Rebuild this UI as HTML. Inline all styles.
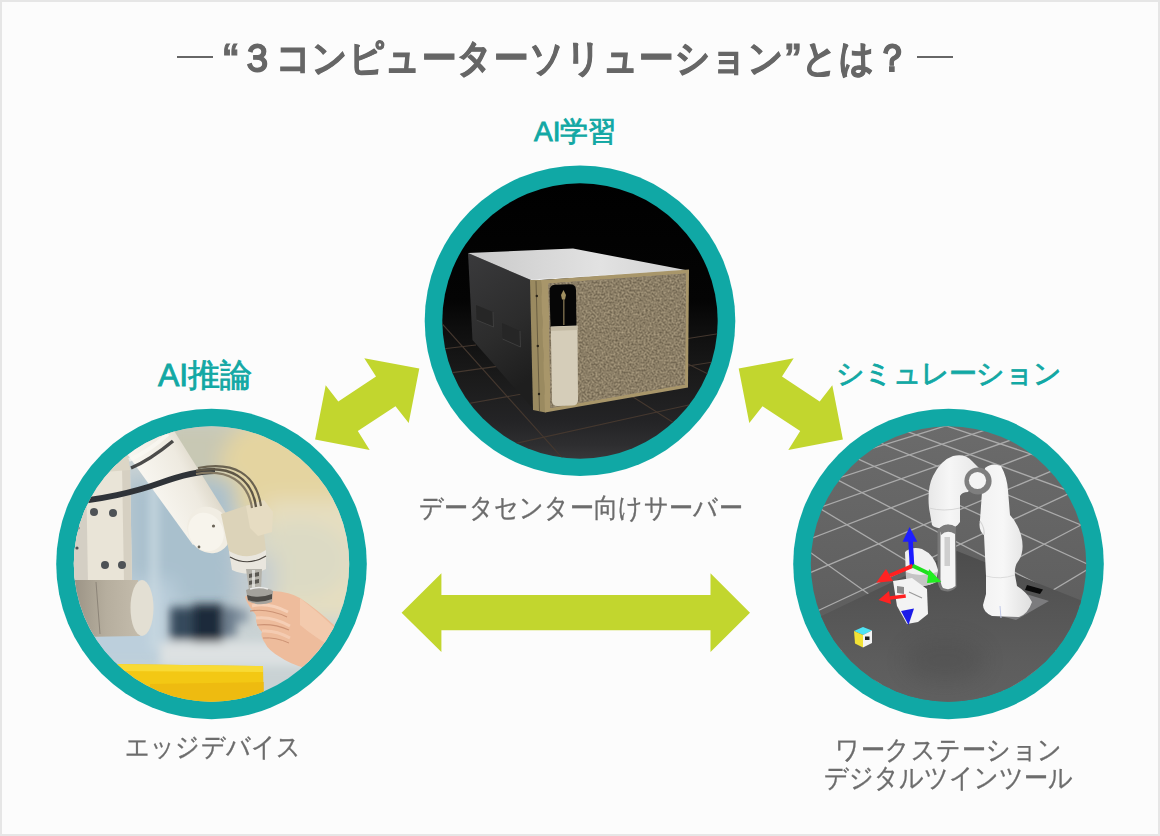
<!DOCTYPE html>
<html lang="ja">
<head>
<meta charset="utf-8">
<style>
html,body{margin:0;padding:0;}
body{width:1160px;height:836px;overflow:hidden;background:#fcfcfc;font-family:"Liberation Sans",sans-serif;position:relative;}
.frame{position:absolute;left:0;top:0;width:1156px;height:832px;border:2px solid #e6e6e6;}
.t{position:absolute;white-space:nowrap;line-height:1;}
.title{top:40px;left:222px;font-size:35px;letter-spacing:0.55px;font-weight:bold;color:#666;transform:scaleY(1.1);transform-origin:0 60%;-webkit-text-stroke:0.9px #666;}
.dash{position:absolute;top:56px;width:36px;height:2px;background:#666;}
.title .d{font-weight:normal;}
.lab{color:#12a8a4;font-weight:normal;-webkit-text-stroke:0.85px #12a8a4;}
.cap{color:#6c6c6c;font-size:24px;font-weight:normal;-webkit-text-stroke:0.3px #6c6c6c;transform:scaleY(1.12);transform-origin:0 60%;}
svg{position:absolute;left:0;top:0;}
</style>
</head>
<body>
<div class="frame"></div>
<svg width="1160" height="836" viewBox="0 0 1160 836">
  <defs>
    <clipPath id="cTop"><circle cx="580" cy="321" r="137.7"/></clipPath>
    <clipPath id="cLeft"><circle cx="211.5" cy="564" r="137.7"/></clipPath>
    <clipPath id="cRight"><circle cx="948.5" cy="564" r="137.7"/></clipPath>
    <linearGradient id="gTopBg" x1="0" y1="180" x2="0" y2="465" gradientUnits="userSpaceOnUse">
      <stop offset="0" stop-color="#000"/>
      <stop offset="0.42" stop-color="#040404"/>
      <stop offset="0.52" stop-color="#0e0e0e"/>
      <stop offset="0.7" stop-color="#1b1b1b"/>
      <stop offset="0.85" stop-color="#242426"/>
      <stop offset="0.93" stop-color="#2e2e30"/>
      <stop offset="1" stop-color="#3c3c3e"/>
    </linearGradient>
    <linearGradient id="gSide" x1="0" y1="0" x2="0.3" y2="1">
      <stop offset="0" stop-color="#3a3a3c"/>
      <stop offset="0.6" stop-color="#2c2c2c"/>
      <stop offset="1" stop-color="#1e1e1e"/>
    </linearGradient>
    <linearGradient id="gTopFace" x1="0" y1="0" x2="1" y2="0">
      <stop offset="0" stop-color="#c9c9c9"/>
      <stop offset="0.6" stop-color="#e2e2e2"/>
      <stop offset="1" stop-color="#d0d0d0"/>
    </linearGradient>
    <linearGradient id="gLeftBg" x1="0" y1="0" x2="1" y2="0">
      <stop offset="0" stop-color="#c3d0da"/>
      <stop offset="0.35" stop-color="#b4c4d0"/>
      <stop offset="0.6" stop-color="#c8cfcc"/>
      <stop offset="0.8" stop-color="#e2dcc4"/>
      <stop offset="1" stop-color="#ece3c0"/>
    </linearGradient>
    <linearGradient id="gLeftBgV" x1="0" y1="0" x2="0" y2="1">
      <stop offset="0" stop-color="#ece4c6" stop-opacity="0.6"/>
      <stop offset="0.35" stop-color="#ece4c6" stop-opacity="0"/>
      <stop offset="0.75" stop-color="#dfe4e6" stop-opacity="0"/>
      <stop offset="1" stop-color="#dfe4e6" stop-opacity="0.6"/>
    </linearGradient>
    <linearGradient id="gRightBg" x1="0" y1="410" x2="0" y2="620" gradientUnits="userSpaceOnUse">
      <stop offset="0" stop-color="#6c6c6c"/>
      <stop offset="1" stop-color="#5e5e5e"/>
    </linearGradient>
    <linearGradient id="gRob" x1="0" y1="0" x2="1" y2="0">
      <stop offset="0" stop-color="#f2f2f2"/>
      <stop offset="0.45" stop-color="#f7f7f7"/>
      <stop offset="1" stop-color="#dedede"/>
    </linearGradient>
    <linearGradient id="gRob2" x1="0" y1="0" x2="1" y2="0">
      <stop offset="0" stop-color="#e8e8e8"/>
      <stop offset="0.4" stop-color="#f6f6f6"/>
      <stop offset="1" stop-color="#e6e6e6"/>
    </linearGradient>
    <linearGradient id="gTable" x1="0" y1="550" x2="0" y2="710" gradientUnits="userSpaceOnUse">
      <stop offset="0" stop-color="#4c4c4c"/>
      <stop offset="0.35" stop-color="#555555"/>
      <stop offset="0.7" stop-color="#5d5d5d"/>
      <stop offset="1" stop-color="#616161"/>
    </linearGradient>
    <filter id="noise" x="0" y="0" width="1" height="1" color-interpolation-filters="sRGB">
      <feTurbulence type="fractalNoise" baseFrequency="0.5" numOctaves="3" seed="7"/>
      <feColorMatrix type="matrix" values="0.42 0 0 0 0.335  0.4 0 0 0 0.295  0.35 0 0 0 0.225  0 0 0 0 1"/>
      <feGaussianBlur stdDeviation="0.3"/>
      <feComposite in2="SourceGraphic" operator="in"/>
    </filter>
    <filter id="blur4" x="-0.5" y="-0.5" width="2" height="2"><feGaussianBlur stdDeviation="4"/></filter>
    <linearGradient id="gJoint" x1="0" y1="0" x2="1" y2="0">
      <stop offset="0" stop-color="#9a9284"/>
      <stop offset="0.5" stop-color="#b6ae9e"/>
      <stop offset="1" stop-color="#c4bcac"/>
    </linearGradient>
    <linearGradient id="gArm" x1="0" y1="0.7" x2="0.75" y2="0.25">
      <stop offset="0" stop-color="#e9e5da"/>
      <stop offset="0.35" stop-color="#f8f6f0"/>
      <stop offset="0.75" stop-color="#eeeae0"/>
      <stop offset="1" stop-color="#d8d2c2"/>
    </linearGradient>
    <filter id="blur6" x="-0.5" y="-0.5" width="2" height="2"><feGaussianBlur stdDeviation="10"/></filter>
    <filter id="blur3" x="-0.5" y="-0.5" width="2" height="2"><feGaussianBlur stdDeviation="5"/></filter>
  </defs>
  <!-- arrows -->
  <g fill="#c2d62e">
    <polygon points="419.3,368.6 364.3,358.2 376.0,376.4 338.3,401.5 325.7,385.2 315.1,439.5 369.7,449.9 357.8,431.1 395.5,406.3 408.7,423.1"/>
    <polygon points="738.7,368.6 793.7,358.2 782.0,376.4 819.7,401.5 832.3,385.2 842.9,439.5 788.3,449.9 800.2,431.1 762.5,406.3 749.3,423.1"/>
    <polygon points="401.6,612.7 441.4,573.2 441.4,595.1 710.5,595.1 710.5,573.2 750,612.7 710.5,651.9 710.5,630.3 441.4,630.3 441.4,651.9"/>
  </g>
  <!-- circles -->
  <circle cx="580" cy="320.8" r="155.3" fill="#10a8a5"/>
  <circle cx="211.5" cy="564" r="155.3" fill="#10a8a5"/>
  <circle cx="948.5" cy="564" r="155.3" fill="#10a8a5"/>
  <!-- top image -->
  <g clip-path="url(#cTop)">
    <rect x="440" y="180" width="280" height="285" fill="url(#gTopBg)"/>
    <!-- floor grid -->
    <g stroke="#45382f" stroke-width="1.1" fill="none">
      <line x1="440" y1="321.4" x2="565" y2="461"/>
      <line x1="620" y1="388.8" x2="720" y2="452.2"/>
      <line x1="686" y1="363" x2="720" y2="380"/>
      <line x1="440" y1="349.3" x2="476" y2="345"/>
      <line x1="440" y1="374.4" x2="497" y2="366.4"/>
      <line x1="440" y1="408.6" x2="533" y2="392"/>
      <line x1="480" y1="451.4" x2="720" y2="398"/>
      <line x1="688" y1="338.5" x2="720" y2="333.5"/>
      <line x1="688" y1="366" x2="720" y2="361"/>
    </g>
    <!-- side face -->
    <polygon points="468,253 531,280 533,409 472.5,340" fill="url(#gSide)"/>
    <g fill="#262626">
      <polygon points="476,305 493,312 493.5,327 476.5,320"/>
      <polygon points="502,323 520,331 520.5,347 502.5,339"/>
    </g>
    <g stroke="#444" stroke-width="0.8" fill="none">
      <polyline points="476.5,320 493.5,327 493,312"/>
      <polyline points="502.5,339 520.5,347 520,331"/>
    </g>
    <!-- top face -->
    <polygon points="468,253 573,248.5 688,270.5 531,280" fill="url(#gTopFace)"/>
    <line x1="531" y1="280" x2="688" y2="270.5" stroke="#f2f2f2" stroke-width="1.2"/>
    <!-- bezel side -->
    <polygon points="530,280 541.5,280 545.5,412.5 533,410" fill="#9a8a60"/>
    <line x1="536" y1="281" x2="539.5" y2="411" stroke="#6a5e42" stroke-width="1"/>
    <circle cx="536.8" cy="296" r="1.2" fill="#2a2418"/>
    <circle cx="537.8" cy="346" r="1.2" fill="#2a2418"/>
    <circle cx="539" cy="394" r="1.2" fill="#2a2418"/>
    <!-- gold frame -->
    <polygon points="541,280 689,269.5 688,387.5 545,412.5" fill="#a8966a"/>
    <!-- textured panel -->
    <polygon points="548.5,283.5 686,273.5 685,384.5 550.5,408" fill="#87796a"/>
    <polygon points="548.5,283.5 686,273.5 685,384.5 550.5,408" fill="#000" filter="url(#noise)"/>
    <!-- black panel -->
    <path d="M549.5,291 Q549.5,285 555,284.8 L570,284.3 Q576,284.3 576,290 L576.5,326 L550.5,327 Z" fill="#060606"/>
    <path d="M563.5,290 l2.5,5 -1,4.5 -3,0 -1,-4.5 Z" fill="#a08f60"/>
    <line x1="563.8" y1="299" x2="563.8" y2="325" stroke="#7a6c4c" stroke-width="1.4"/>
    <!-- cream handle -->
    <path d="M550.8,326.5 L577.5,325.5 L578,400 Q578,405.5 572,405.5 L557.5,406 Q552,406 552,401 Z" fill="#d5cdb9"/>
    <path d="M551,327 L577.5,326 L577.5,330 L551,331 Z" fill="#c5bca6"/>
  </g>
  <!-- left image -->
  <g clip-path="url(#cLeft)">
    <rect x="70" y="420" width="290" height="290" fill="#c9d2d4"/>
    <g filter="url(#blur6)">
      <rect x="160" y="420" width="200" height="60" fill="#c8c8b4"/>
      <ellipse cx="290" cy="470" rx="70" ry="60" fill="#e4d4a0"/>
      <rect x="265" y="500" width="100" height="120" fill="#e6dec0"/>
      <ellipse cx="300" cy="560" rx="50" ry="40" fill="#dcdac4"/>
      <rect x="125" y="480" width="110" height="130" fill="#a9c0cd"/>
      <rect x="75" y="580" width="100" height="90" fill="#bccfdc"/>
      <rect x="235" y="555" width="40" height="50" fill="#c4ccd0"/>
    </g>
    <g filter="url(#blur3)">
      <rect x="170" y="607" width="24" height="33" fill="#34485c"/>
      <rect x="193" y="604" width="30" height="38" fill="#1a2a3a"/>
      <rect x="224" y="607" width="12" height="30" fill="#6a7c8c"/>
      <rect x="236" y="609" width="12" height="14" fill="#8898a6"/>
      <rect x="160" y="642" width="180" height="24" fill="#dde1e2"/>
      <rect x="150" y="470" width="8" height="180" fill="#c8d8e0"/>
    </g>
    <!-- column left -->
    <path d="M70,470 L102,462 L130,466 L132,582 L70,585 Z" fill="#e9e4d7"/>
    <path d="M122,466 L130,466 L132,582 L124,582 Z" fill="#d6d0c2"/>
    <path d="M70,470 L86,467 L88,585 L70,585 Z" fill="#d4cfc4"/>
    <path d="M102,455 L128,452 L130,470 L104,472 Z" fill="#dcd6c6"/>
    <circle cx="94" cy="512" r="4" fill="#4e5256"/>
    <circle cx="113" cy="513" r="4" fill="#4e5256"/>
    <circle cx="105" cy="565" r="4" fill="#4e5256"/>
    <circle cx="122" cy="565" r="4" fill="#4e5256"/>
    <circle cx="78" cy="528" r="1.6" fill="#4e5256"/>
    <circle cx="77" cy="548" r="1.6" fill="#4e5256"/>
    <!-- lower joint -->
    <path d="M72,580 L138,580 L140,636 L80,637 Z" fill="url(#gJoint)"/>
    <ellipse cx="142" cy="608" rx="11.5" ry="28" fill="#e3dfd3"/>
    <line x1="96" y1="582" x2="100" y2="634" stroke="#8c8478" stroke-width="1"/>
    <!-- upper arm -->
    <path d="M117,440 L140,412 L166,418 L227,515 L193,545 Z" fill="url(#gArm)"/>
    <path d="M131,468 Q150,460 173,441" stroke="#2e2e2e" stroke-width="3.5" fill="none" opacity="0.85"/>
    <path d="M129,460 Q148,452 168,434" stroke="#fbf9f4" stroke-width="4" fill="none" opacity="0.7"/>
    <ellipse cx="209" cy="530" rx="21" ry="24" transform="rotate(-30 209 530)" fill="#f1ede3"/>
    <ellipse cx="206" cy="532" rx="17" ry="20" transform="rotate(-30 206 532)" fill="#f7f4ec"/>
    <circle cx="213.5" cy="526" r="1.6" fill="#6a6458"/>
    <circle cx="199" cy="547" r="1.4" fill="#6a6458"/>
    <!-- elbow joint -->
    <path d="M221,514 L248,505 L262,515 L266,551 L254,561 L230,556 Z" fill="#dcd3b9"/>
    <path d="M246,506 L264,500 L273,512 L272,532 L258,536 L250,528 Z" fill="#e6dcc2"/>
    <!-- wrist -->
    <path d="M229,551 Q248,562 266,550 L266,569 Q250,578 232,570 Z" fill="#e9e6de"/>
    <path d="M230,557 Q248,567 266,556" stroke="#4a4640" stroke-width="1.2" fill="none"/>
    <!-- cables -->
    <path d="M70,502 C100,500 135,492 160,483 C185,474 205,471 215,471" stroke="#2f3338" stroke-width="6" fill="none"/>
    <path d="M196,471 C230,464 252,478 256,507" stroke="#5e5646" stroke-width="2.4" fill="none"/>
    <path d="M196,474 C228,468 248,482 252,508" stroke="#857a64" stroke-width="2.2" fill="none"/>
    <path d="M198,468 C234,461 256,474 261,506" stroke="#6a6250" stroke-width="2.2" fill="none"/>
    <!-- hand -->
    <path d="M245,597 Q252,590 262,592 L273,591 Q290,592 300,598 Q318,610 335,626 L340,660 L305,668 Q290,664 280,657 Q268,650 265,643 Q260,636 262,632 Q255,625 256,615 Q248,606 245,597 Z" fill="#eebc9c"/>
    <path d="M300,598 Q318,612 335,628 L338,650 Q318,640 300,625 Z" fill="#f4cdb2" opacity="0.8"/>
    <path d="M252,606 Q268,602 288,612" stroke="#f8d6c0" stroke-width="3" fill="none" opacity="0.8"/>
    <path d="M256,618 Q272,616 290,626" stroke="#f8d6c0" stroke-width="3" fill="none" opacity="0.7"/>
    <path d="M262,631 Q276,630 290,638" stroke="#f8d6c0" stroke-width="3" fill="none" opacity="0.6"/>
    <path d="M250,611 Q268,608 287,617" stroke="#cc9274" stroke-width="1.2" fill="none"/>
    <path d="M257,625 Q273,623 289,630" stroke="#cc9274" stroke-width="1.2" fill="none"/>
    <path d="M263,638 Q276,637 289,643" stroke="#cc9274" stroke-width="1" fill="none"/>
    <!-- tool -->
    <path d="M246,569 L262,569 L261,590 L249,590 Z" fill="#b4b2aa"/>
    <path d="M249,574 L259,572 L259,576 L249,578 Z" fill="#5a5852"/>
    <path d="M249,581 L259,579 L259,583 L249,585 Z" fill="#5a5852"/>
    <path d="M252,570 L255,570 L255,589 L252,589 Z" fill="#e6e6e2" opacity="0.8"/>
    <path d="M246,590 Q259,584 273,591 L272,602 Q259,607 248,601 Z" fill="#a4a29c"/>
    <path d="M247,595 Q259,599 272,594 L272,599 Q259,604 248,600 Z" fill="#4e4c48"/>
    <path d="M250,589 Q259,586 268,589" stroke="#ececea" stroke-width="1.5" fill="none"/>
    <!-- yellow box -->
    <path d="M112,664 L263,666 L264,712 L112,712 Z" fill="#f3c814"/>
    <path d="M112,664 L263,666 L263,672 L112,671 Z" fill="#f8da34"/>
    <path d="M150,684 L264,682 L264,712 L150,712 Z" fill="#eab00c" opacity="0.55"/>
  </g>
  <!-- right image -->
  <g clip-path="url(#cRight)">
    <rect x="795" y="410" width="310" height="315" fill="url(#gRightBg)"/>
    <!-- grid -->
    <g stroke="#ababab" stroke-width="1.3" fill="none">
<line x1="795.3" y1="714.7" x2="804.4" y2="724.8"/>
<line x1="795.3" y1="610.2" x2="927.6" y2="725.0"/>
<line x1="795.3" y1="541.8" x2="1052.0" y2="724.7"/>
<line x1="795.0" y1="493.5" x2="1104.5" y2="679.9"/>
<line x1="795.1" y1="457.8" x2="1104.8" y2="619.2"/>
<line x1="795.1" y1="430.2" x2="1104.6" y2="571.9"/>
<line x1="799.6" y1="410.0" x2="1104.8" y2="534.6"/>
<line x1="848.9" y1="410.1" x2="1104.6" y2="504.0"/>
<line x1="898.7" y1="410.0" x2="1104.8" y2="478.7"/>
<line x1="949.6" y1="410.0" x2="1104.6" y2="457.3"/>
<line x1="1001.3" y1="410.0" x2="1104.8" y2="439.1"/>
<line x1="1053.8" y1="410.1" x2="1105.0" y2="423.3"/>
<line x1="795.1" y1="413.7" x2="809.9" y2="410.1"/>
<line x1="795.1" y1="425.6" x2="855.8" y2="410.0"/>
<line x1="795.1" y1="439.1" x2="902.4" y2="410.0"/>
<line x1="795.1" y1="454.4" x2="949.6" y2="410.0"/>
<line x1="795.2" y1="472.0" x2="997.5" y2="410.0"/>
<line x1="795.2" y1="492.4" x2="1045.9" y2="410.1"/>
<line x1="795.2" y1="516.3" x2="1095.3" y2="410.1"/>
<line x1="795.2" y1="544.6" x2="1104.8" y2="425.7"/>
<line x1="795.2" y1="578.9" x2="1104.8" y2="448.6"/>
<line x1="795.3" y1="621.2" x2="1104.7" y2="476.9"/>
<line x1="795.3" y1="674.6" x2="1104.7" y2="512.6"/>
<line x1="827.7" y1="724.8" x2="1104.7" y2="559.1"/>
<line x1="958.2" y1="724.6" x2="1104.6" y2="622.3"/>
<line x1="1090.2" y1="725.0" x2="1104.5" y2="712.9"/>
    </g>
    <!-- table -->
    <polygon points="790,631 957,551 1110,612 1110,725 790,725" fill="url(#gTable)"/>
    <ellipse cx="945" cy="660" rx="40" ry="22" fill="#444" opacity="0.3" filter="url(#blur6)"/>
    <!-- base plate -->
    <polygon points="1006,588 1049,601 1016,620 985,612" fill="#7c7c7e"/>
    <polygon points="1027,585 1043,589.5 1040,594 1025,590" fill="#0a0a0a"/>
    <!-- robot right link -->
    <path d="M982,492 L985,468 Q992,462 1001,466 Q1007,477 1008,490 L1010,515 Q1017,522 1021,535 Q1025,550 1019,560 Q1014,566 1015,575 L1017,586 Q1027,592 1032,602 Q1028,614 1019,617 L992,616 Q983,612 983,605 L986,594 L986,576 L984,535 Q978,530 980,520 Z" fill="url(#gRob)"/>
    <path d="M980,521 Q985,528 984,535" stroke="#d4d4d4" stroke-width="1.2" fill="none"/>
    <path d="M986,576 Q1000,580 1015,575" stroke="#dcdcdc" stroke-width="1" fill="none"/>
    <line x1="1000" y1="606" x2="1001" y2="618" stroke="#c0c8e8" stroke-width="1"/>
    <!-- left link + top link -->
    <path d="M929,508 Q927,488 933,476 Q941,460 953,456 Q965,453 972,461 L981,470 L968,492 Q962,492 960,496 L960,522 Q955,530 945,529 Q934,528 932,525 Z" fill="url(#gRob2)"/>
    <path d="M929,508 Q944,512 960,508" stroke="#d6d6d6" stroke-width="1" fill="none"/>
    <circle cx="978" cy="481" r="13.6" fill="#7e7e7e"/>
    <circle cx="977.5" cy="480.5" r="8.6" fill="#f4f4f4"/>
    <!-- forearm -->
    <path d="M937.5,530 Q946,521 956,527 L956.5,587 Q950,594 941,590 Q937,585 937.5,575 Z" fill="#787878"/>
    <path d="M940.5,532 Q947,526 955,530 L955.5,586 Q950,591 943,588 Q940,584 940.5,575 Z" fill="#f4f4f4"/>
    <path d="M940,528 Q947,522 955,527 L955,534 Q947,529 941,535 Z" fill="#7c7c7c"/>
    <path d="M944.5,537 L950,537 L950,566 L944.5,566 Z" fill="#b4b4b4" opacity="0.6"/>
    <!-- gripper -->
    <path d="M905,552 Q912,546 922,549 Q935,555 938,570 L936,582 Q925,588 912,585 L906,578 Z" fill="#f0f0f0"/>
    <path d="M906,572 Q920,578 937,572 L936,582 Q925,588 912,585 L906,578 Z" fill="#c4c4c4"/>
    <path d="M893,581 L912,578 L927,589 L928,614 L918,622 L907,624 L897,606 Z" fill="#f3f3f3"/>
    <path d="M897,586 L904,587 L904,594 L897,593 Z" fill="#8a8a8a"/>
    <path d="M909,592 L922,598" stroke="#9a9a9a" stroke-width="1.2"/>
    <!-- axes -->
    <line x1="912" y1="566" x2="910.5" y2="540" stroke="#1a1aff" stroke-width="4.6"/>
    <polygon points="909.6,527 902.6,541.7 917.3,541.7" fill="#1e1eff"/>
    <line x1="912.7" y1="565.8" x2="890" y2="575.5" stroke="#ff2020" stroke-width="4"/>
    <polygon points="876.2,582.8 886,569 893,581" fill="#ff2222"/>
    <line x1="912.7" y1="565.8" x2="932" y2="575" stroke="#1ee01e" stroke-width="4"/>
    <polygon points="941.4,582.1 929,569 927,583" fill="#22ee22"/>
    <line x1="905.7" y1="596" x2="890" y2="598" stroke="#ff2020" stroke-width="3.5"/>
    <polygon points="878.5,600 889,591 891,604" fill="#ff2222"/>
    <polygon points="901,611 914,608.5 908.5,625" fill="#1a1ae8"/>
    <!-- cube -->
    <polygon points="854,631 863,627 872,630.5 863,635" fill="#4ee2f2"/>
    <polygon points="854,631 863,635 863,647.5 855,643.5" fill="#f2e236"/>
    <polygon points="863,635 872,630.5 872,643 863,647.5" fill="#f4f4f4"/>
    <rect x="865" y="636.5" width="4.5" height="3.5" fill="#222"/>
  </g>
</svg>
<div class="dash" style="left:177px;"></div><div class="dash" style="left:917px;"></div>
<div class="t title">“３コンピューターソリューション”とは？</div>
<div class="t lab" style="left:534px;top:118px;font-size:28px;">AI学習</div>
<div class="t lab" style="left:158px;top:359px;font-size:32px;">AI推論</div>
<div class="t lab" style="left:836px;top:360px;font-size:28px;letter-spacing:-0.75px;">シミュレーション</div>
<div class="t cap" style="left:419px;top:496px;letter-spacing:0.3px;">データセンター向けサーバー</div>
<div class="t cap" style="left:125px;top:735px;letter-spacing:0.2px;">エッジデバイス</div>
<div class="t cap" style="left:835px;top:738px;letter-spacing:0.5px;">ワークステーション</div>
<div class="t cap" style="left:824px;top:766px;">デジタルツインツール</div>
</body>
</html>
